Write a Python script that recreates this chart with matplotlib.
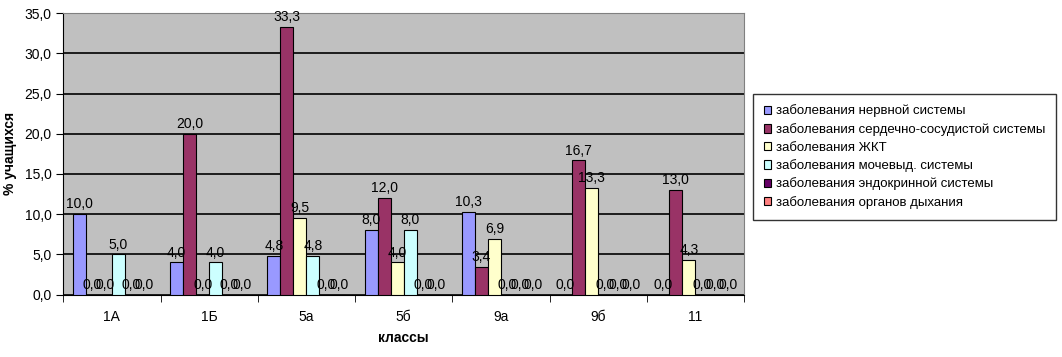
import numpy as np
import matplotlib.pyplot as plt

plt.rcParams['font.family'] = ['Liberation Sans', 'DejaVu Sans']

classes = ["1А", "1Б", "5а", "5б", "9а", "9б", "11"]

series_names = [
    "заболевания нервной системы",
    "заболевания сердечно-сосудистой системы",
    "заболевания ЖКТ",
    "заболевания мочевыд. системы",
    "заболевания эндокринной системы",
    "заболевания органов дыхания",
]

nervous = [10.0, 4.0, 4.8, 8.0, 10.3, 0.0, 0.0]
cardio = [0.0, 20.0, 33.3, 12.0, 3.4, 16.7, 13.0]
gastro = [0.0, 0.0, 9.5, 4.0, 6.9, 13.3, 4.3]
urinary = [5.0, 4.0, 4.8, 8.0, 0.0, 0.0, 0.0]
endocrine = [0.0, 0.0, 0.0, 0.0, 0.0, 0.0, 0.0]
respiratory = [0.0, 0.0, 0.0, 0.0, 0.0, 0.0, 0.0]

colors = ["#9999FF", "#993366", "#FFFFCC", "#CCFFFF", "#660066", "#FF8080"]

fig = plt.figure(figsize=(10.62, 3.57), dpi=100)
ax = fig.add_axes([63.3 / 1062, 1 - 294.5 / 357, (744 - 63.3) / 1062, (294.5 - 13.3) / 357])

x = np.arange(len(classes))
w = 0.134
data = [nervous, cardio, gastro, urinary, endocrine, respiratory]
for j, (vals, name, c) in enumerate(zip(data, series_names, colors)):
    pos = x + (j - 2.5) * w
    bars = ax.bar(pos, vals, w, color=c, edgecolor="black", linewidth=0.8, label=name, zorder=3)
    for b, v in zip(bars, vals):
        ax.annotate(f"{v:.1f}".replace(".", ","), (b.get_x() + b.get_width() / 2, v),
                    xytext=(0, 2), textcoords="offset points", ha="center", va="bottom",
                    fontsize=10, zorder=4)

ax.set_facecolor("#C0C0C0")
ax.set_xlim(-0.5, len(classes) - 0.5)
ax.set_ylim(0, 35)
ax.set_yticks(np.arange(0, 36, 5))
ax.set_yticklabels([f"{t:.1f}".replace(".", ",") for t in np.arange(0, 36, 5)], fontsize=10)
ax.yaxis.grid(True, color="black", linewidth=1.2, zorder=0)
ax.set_axisbelow(True)

ax.set_xticks(x)
ax.set_xticklabels(classes, fontsize=10)
ax.set_xticks(np.arange(-0.5, len(classes), 1), minor=True)
ax.tick_params(axis="x", which="major", length=0, pad=11)
ax.tick_params(axis="x", which="minor", length=5, direction="out")
ax.tick_params(axis="y", length=5, direction="out")

ax.spines["top"].set_color("#808080")
ax.spines["right"].set_color("#808080")
ax.spines["left"].set_color("black")
ax.spines["bottom"].set_color("black")

ax.set_xlabel("классы", fontsize=10, fontweight="bold", labelpad=5)
ax.set_ylabel("% учащихся", fontsize=10, fontweight="bold", labelpad=5)

leg = fig.legend(loc="upper left", bbox_to_anchor=(753 / 1062, 1 - 94 / 357), fontsize=9.5,
                 frameon=True, fancybox=False, edgecolor="black", handlelength=0.6,
                 handleheight=0.6, handletextpad=0.35, labelspacing=0.42, borderpad=0.8,
                 borderaxespad=0)
leg.get_frame().set_linewidth(1.0)

fig.savefig("out.png", dpi=100)
